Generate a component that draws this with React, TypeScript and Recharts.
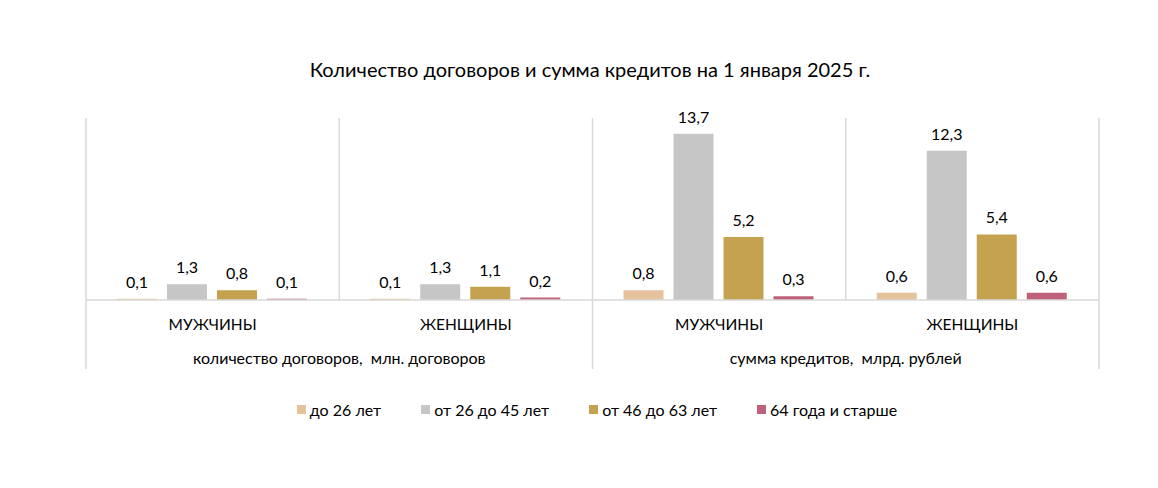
import React from 'react';
import { BarChart, Bar, XAxis, YAxis, CartesianGrid, LabelList, Legend } from 'recharts';

const categories = ['МУЖЧИНЫ', 'ЖЕНЩИНЫ', 'МУЖЧИНЫ', 'ЖЕНЩИНЫ'];
const groups = [
  'количество договоров,  млн. договоров',
  'количество договоров,  млн. договоров',
  'сумма кредитов,  млрд. рублей',
  'сумма кредитов,  млрд. рублей',
];
const seriesNames = ['до 26 лет', 'от 26 до 45 лет', 'от 46 до 63 лет', '64 года и старше'];
const under26 = [0.1, 0.1, 0.8, 0.6];
const from26to45 = [1.3, 1.3, 13.7, 12.3];
const from46to63 = [0.8, 1.1, 5.2, 5.4];
const over64 = [0.1, 0.2, 0.3, 0.6];
const colors = ['#E5C29C', '#C6C6C6', '#C4A24F', '#C0617B'];
const title = 'Количество договоров и сумма кредитов на 1 января 2025 г.';

const data = categories.map((c, i) => ({
  cat: c,
  grp: groups[i],
  s0: under26[i],
  s1: from26to45[i],
  s2: from46to63[i],
  s3: over64[i],
}));

const W = 1142;
const H = 472;
const MARGIN = { top: 110, right: 51, left: 78, bottom: 105 };
const PLOT_W = W - MARGIN.left - MARGIN.right;
const BW = PLOT_W / categories.length;
const LINE = '#D9D9D9';
const FONT = 'Lato, "Open Sans", sans-serif';

const fmt = (v: any) => String(v).replace('.', ',');

const CatTick = (props: any) => {
  const { x, y, payload } = props;
  return (
    <text x={x} y={y + 22} textAnchor="middle" fontSize={15.5} fill="#000" fontFamily={FONT}>
      {payload.value}
    </text>
  );
};

const GroupTick = (props: any) => {
  const { x, y, payload, index } = props;
  const left = x - BW / 2;
  const lines: any[] = [];
  if (index % 2 === 0) {
    lines.push(<line key="l" x1={left} x2={left} y1={y - 48} y2={y + 21} stroke={LINE} strokeWidth={1.5} />);
  }
  if (index === categories.length - 1) {
    lines.push(<line key="r" x1={x + BW / 2} x2={x + BW / 2} y1={y - 48} y2={y + 21} stroke={LINE} strokeWidth={1.5} />);
  }
  return (
    <g>
      {lines}
      {index % 2 === 0 && (
        <text x={x + BW / 2} y={y + 16} textAnchor="middle" fontSize={16} fill="#000" fontFamily={FONT} style={{ whiteSpace: 'pre' }}>
          {payload.value}
        </text>
      )}
    </g>
  );
};

const LegendContent = () => (
  <div style={{ display: 'flex', justifyContent: 'center', paddingLeft: 36, fontFamily: FONT, fontSize: 16, color: '#000' }}>
    {seriesNames.map((n, i) => (
      <div key={n} style={{ display: 'flex', alignItems: 'center', marginRight: i < seriesNames.length - 1 ? 40 : 0 }}>
        <span style={{ display: 'inline-block', width: 9, height: 9, background: colors[i], marginRight: 4 }} />
        <span>{n}</span>
      </div>
    ))}
  </div>
);

export default function App() {
  const keys = ['s0', 's1', 's2', 's3'];
  return (
    <div style={{ position: 'relative', width: W, height: H, background: '#fff' }}>
      <div
        style={{
          position: 'absolute',
          top: 49,
          left: 0,
          width: W,
          paddingLeft: 22,
          boxSizing: 'border-box',
          textAlign: 'center',
          fontFamily: FONT,
          fontSize: 20,
          color: '#000',
        }}
      >
        {title}
      </div>
      <BarChart width={W} height={H} data={data} margin={MARGIN} barGap={10} barCategoryGap={31}>
        <CartesianGrid
          horizontal={false}
          stroke={LINE}
          strokeWidth={1.5}
          verticalCoordinatesGenerator={({ offset }: any) =>
            categories.concat(['']).map((_, i) => offset.left + (i * offset.width) / categories.length)
          }
        />
        <YAxis hide domain={[0, 15]} />
        <XAxis xAxisId={0} dataKey="cat" axisLine={{ stroke: LINE, strokeWidth: 1.5 }} tickLine={false} tick={<CatTick />} height={40} interval={0} />
        <XAxis xAxisId={1} dataKey="grp" axisLine={false} tickLine={false} tick={<GroupTick />} height={35} interval={0} allowDuplicatedCategory />
        <Legend verticalAlign="middle" align="center" wrapperStyle={{ top: 392, left: 0, width: W }} content={<LegendContent />} />
        {keys.map((k, i) => (
          <Bar key={k} dataKey={k} name={seriesNames[i]} fill={colors[i]} isAnimationActive={false} xAxisId={0}>
            <LabelList dataKey={k} position="top" offset={11} formatter={fmt} fontSize={16} fill="#000" fontFamily={FONT} />
          </Bar>
        ))}
      </BarChart>
    </div>
  );
}
